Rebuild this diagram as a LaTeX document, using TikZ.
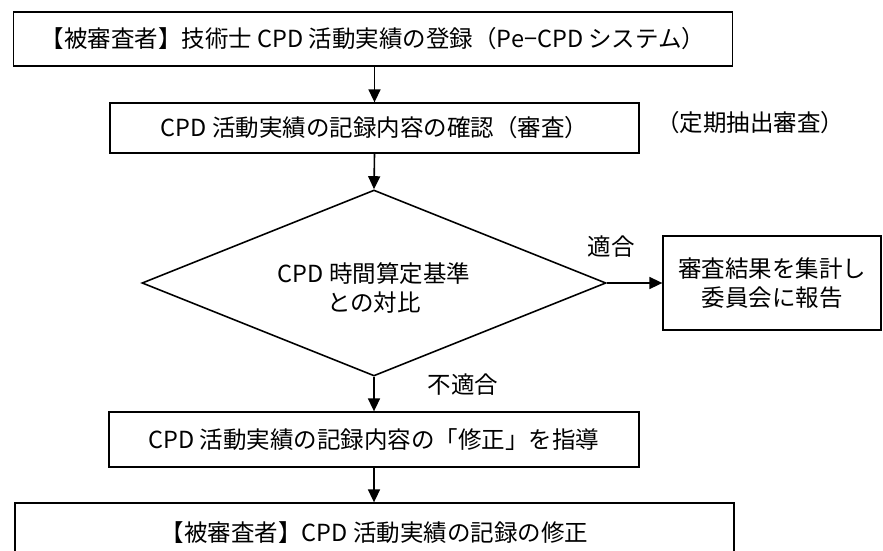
\documentclass[tikz,border=0pt]{standalone}
\usepackage{fontspec}
\setmainfont{Noto Sans CJK JP}
\usetikzlibrary{arrows.meta,shapes.geometric}

\begin{document}
\begin{tikzpicture}[x=1pt,y=-1pt,>={Triangle[length=13pt,width=12pt]},line join=miter,
  every node/.style={font=\fontsize{23.5}{29}\selectfont,align=center},
  stepbox/.style={draw,line width=1.3pt,rectangle,inner sep=0pt},
  testbox/.style={draw,line width=1.6pt,diamond,inner sep=0pt},
  flow/.style={->,line width=1.6pt}]
  \clip (0,0) rectangle (883,551);
  % Node: Register
  \node[stepbox,minimum width=719pt,minimum height=54pt] (register) at (373,39)
    {【被審査者】技術士 CPD 活動実績の登録（Pe−CPD システム）};
  % Node: Check
  \node[stepbox,minimum width=529pt,minimum height=50pt] (check) at (374.5,128)
    {CPD 活動実績の記録内容の確認（審査）};
  \node (periodic) at (750,123) {（定期抽出審査）};
  % Node: Compare
  \node[testbox,minimum width=464pt,minimum height=186pt] (compare) at (374,283) {};
  \node (comparetext) at (374,288) {CPD 時間算定基準\\との対比};
  % Node: Report
  \node[stepbox,minimum width=218pt,minimum height=94pt] (report) at (772,283)
    {審査結果を集計し\\委員会に報告};
  % Node: Guide
  \node[stepbox,minimum width=530pt,minimum height=55pt] (guide) at (374,439.5)
    {CPD 活動実績の記録内容の「修正」を指導};
  % Node: Revise
  \node[stepbox,minimum width=719pt,minimum height=60pt] (revise) at (374.5,533)
    {【被審査者】CPD 活動実績の記録の修正};
  % Edge: Register -> Check
  \draw[flow] (register.south -| check.north) -- (check.north);
  % Edge: Check -> Compare
  \draw[flow] (check.south) -- (compare.north);
  % Edge: Compare -> Report
  \draw[flow] (compare.east) -- (report.west);
  \node (pass) at (611,247) {適合};
  % Edge: Compare -> Guide
  \draw[flow] (compare.south) -- (guide.north);
  \node (fail) at (463,385) {不適合};
  % Edge: Guide -> Revise
  \draw[flow] (guide.south) -- (revise.north -| guide.south);
\end{tikzpicture}
\end{document}
